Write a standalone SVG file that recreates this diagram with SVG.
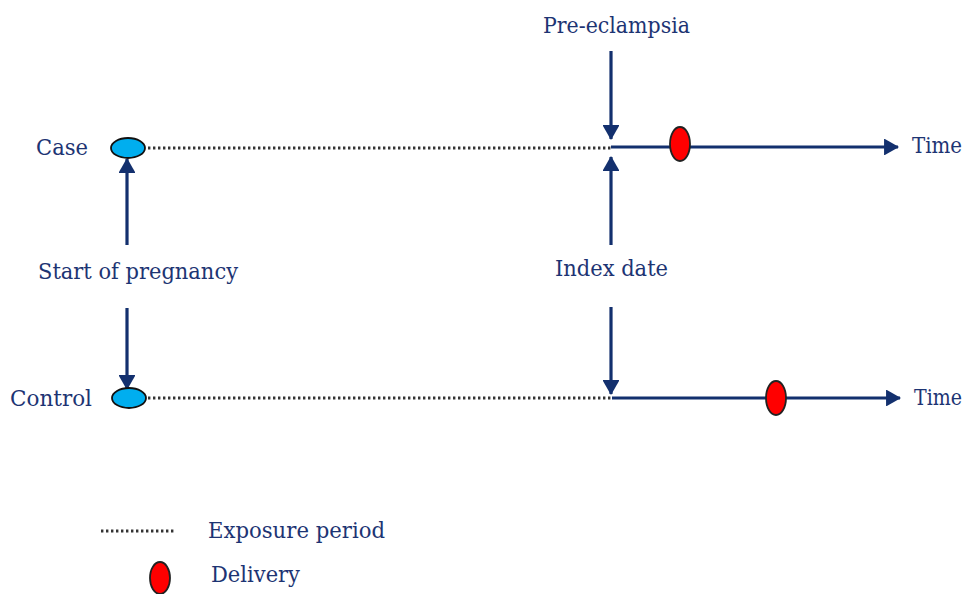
<svg xmlns="http://www.w3.org/2000/svg" width="968" height="594" viewBox="0 0 968 594">
  <style>
    .lbl { font-family: "DejaVu Serif", "Liberation Serif", serif; font-size: 22px; fill: #1d3473; }
    .axis { stroke: #13306e; stroke-width: 3.2; fill: none; }
    .dots { stroke: #333333; stroke-width: 3; stroke-dasharray: 2.4 2.6; fill: none; }
    .start { fill: #00aeef; stroke: #111; stroke-width: 1.8; }
    .deliv { fill: #ff0000; stroke: #222; stroke-width: 1.8; }
  </style>
  <defs>
    <marker id="head" viewBox="0 0 15 17" refX="14" refY="8.5" markerWidth="4.7" markerHeight="5.3" markerUnits="strokeWidth" orient="auto">
      <path d="M0,0 L15,8.5 L0,17 z" fill="#13306e"/>
    </marker>
  </defs>
  <rect width="968" height="594" fill="#ffffff"/>

  <!-- timelines and pointers -->
  <g id="connectors">
    <line class="dots" x1="148" y1="148" x2="611" y2="148"/>
    <line class="axis" x1="611" y1="147" x2="898" y2="147" marker-end="url(#head)"/>
    <line class="dots" x1="148" y1="398" x2="612" y2="398"/>
    <line class="axis" x1="612" y1="398" x2="900" y2="398" marker-end="url(#head)"/>
    <line class="axis" x1="611" y1="51" x2="611" y2="139" marker-end="url(#head)"/>
    <line class="axis" x1="611" y1="245" x2="611" y2="157" marker-end="url(#head)"/>
    <line class="axis" x1="611" y1="307" x2="611" y2="394" marker-end="url(#head)"/>
    <line class="axis" x1="127" y1="245" x2="127" y2="159" marker-end="url(#head)"/>
    <line class="axis" x1="127" y1="308" x2="127" y2="389" marker-end="url(#head)"/>
  </g>

  <g id="case">
    <text class="lbl" x="36" y="155" textLength="52" lengthAdjust="spacingAndGlyphs">Case</text>
    <ellipse class="start" cx="128" cy="148" rx="17" ry="10"/>
  </g>
  <g id="case-delivery">
    <ellipse class="deliv" cx="680" cy="144" rx="10" ry="17"/>
  </g>
  <g id="case-time">
    <text class="lbl" x="912" y="153" textLength="50" lengthAdjust="spacingAndGlyphs">Time</text>
  </g>
  <g id="pre-eclampsia">
    <text class="lbl" x="543" y="33" textLength="147" lengthAdjust="spacingAndGlyphs">Pre-eclampsia</text>
  </g>
  <g id="start-of-pregnancy">
    <text class="lbl" x="38" y="279" textLength="200" lengthAdjust="spacingAndGlyphs">Start of pregnancy</text>
  </g>
  <g id="index-date">
    <text class="lbl" x="555" y="276" textLength="113" lengthAdjust="spacingAndGlyphs">Index date</text>
  </g>
  <g id="control">
    <text class="lbl" x="10" y="406" textLength="82" lengthAdjust="spacingAndGlyphs">Control</text>
    <ellipse class="start" cx="129" cy="398" rx="17" ry="10"/>
  </g>
  <g id="control-delivery">
    <ellipse class="deliv" cx="776" cy="398" rx="10" ry="17"/>
  </g>
  <g id="control-time">
    <text class="lbl" x="914" y="405" textLength="48" lengthAdjust="spacingAndGlyphs">Time</text>
  </g>

  <!-- legend -->
  <g id="legend-exposure">
    <line class="dots" x1="101" y1="531" x2="176" y2="531"/>
    <text class="lbl" x="208" y="538" textLength="177" lengthAdjust="spacingAndGlyphs">Exposure period</text>
  </g>
  <g id="legend-delivery">
    <ellipse class="deliv" cx="160" cy="578" rx="10" ry="16"/>
    <text class="lbl" x="211" y="582" textLength="89" lengthAdjust="spacingAndGlyphs">Delivery</text>
  </g>
</svg>
